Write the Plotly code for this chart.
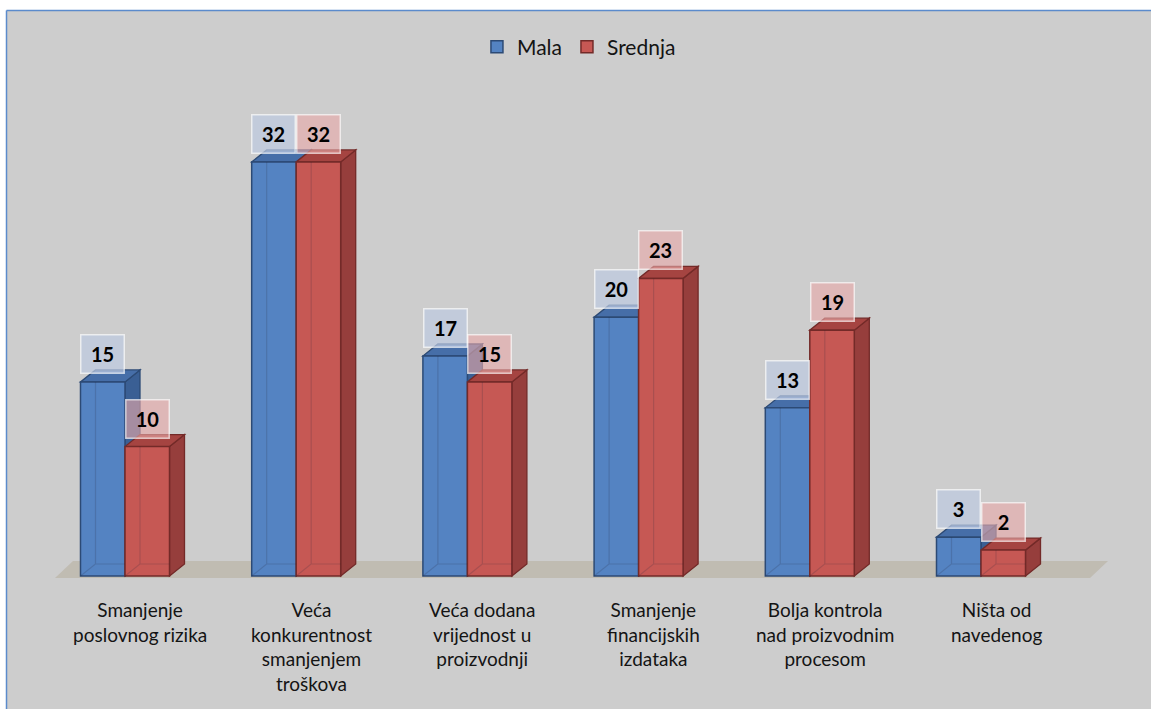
import plotly.graph_objects as go

# ---------------- data ----------------
categories = [
    "Smanjenje<br>poslovnog rizika",
    "Veća<br>konkurentnost<br>smanjenjem<br>troškova",
    "Veća dodana<br>vrijednost u<br>proizvodnji",
    "Smanjenje<br>financijskih<br>izdataka",
    "Bolja kontrola<br>nad proizvodnim<br>procesom",
    "Ništa od<br>navedenog",
]
mala = [15, 32, 17, 20, 13, 3]
srednja = [10, 32, 15, 23, 19, 2]
series_names = ["Mala", "Srednja"]

# ---------------- geometry (pixels) ----------------
W, H = 1151, 709
X0_PX, STEP_PX = 125.0, 171.2      # first category centre, spacing
Y0_PX, UNIT_PX = 576.0, 12.94      # baseline, pixels per unit
BAR_PX, DX_PX, DY_PX = 44.5, 15.0, 12.0

xr = [(0 - X0_PX) / STEP_PX, (W - X0_PX) / STEP_PX]
yr = [(Y0_PX - H) / UNIT_PX, Y0_PX / UNIT_PX]
bw = BAR_PX / STEP_PX
dx = DX_PX / STEP_PX
dy = DY_PX / UNIT_PX


def px_x(p):
    return (p - X0_PX) / STEP_PX


def px_y(p):
    return (Y0_PX - p) / UNIT_PX


styles = {
    "Mala": dict(front="rgb(84,131,194)", side="rgb(58,95,148)", top="rgb(70,110,168)",
                 line="rgb(44,74,117)", box="rgba(190,203,224,0.72)"),
    "Srednja": dict(front="rgb(198,88,84)", side="rgb(150,62,60)", top="rgb(165,68,65)",
                    line="rgb(115,42,40)", box="rgba(232,170,170,0.62)"),
}

FONT = "Lato, 'Open Sans', sans-serif"
BG = "rgb(205,205,205)"

fig = go.Figure()
shapes = []
annotations = []

# white strips outside the chart border (top and left), blue border lines
bx0, by1 = 6.5 / W, 1 - 10.5 / H
shapes.append(dict(type="rect", xref="paper", yref="paper", layer="below",
                   x0=-0.01, x1=1.01, y0=by1, y1=1.01,
                   fillcolor="white", line=dict(width=0)))
shapes.append(dict(type="rect", xref="paper", yref="paper", layer="below",
                   x0=-0.01, x1=bx0, y0=-0.01, y1=1.01,
                   fillcolor="white", line=dict(width=0)))
shapes.append(dict(type="line", xref="paper", yref="paper", layer="below",
                   x0=bx0, x1=1.01, y0=by1, y1=by1,
                   line=dict(color="rgb(91,139,204)", width=1.5)))
shapes.append(dict(type="line", xref="paper", yref="paper", layer="below",
                   x0=bx0, x1=bx0, y0=-0.01, y1=by1,
                   line=dict(color="rgb(91,139,204)", width=1.5)))
# floor
fx = [px_x(55), px_x(1090), px_x(1108), px_x(73)]
fy = [px_y(578), px_y(578), px_y(561), px_y(561)]
shapes.append(dict(type="path", xref="x", yref="y", layer="below",
                   path=f"M{fx[0]},{fy[0]} L{fx[1]},{fy[1]} L{fx[2]},{fy[2]} L{fx[3]},{fy[3]} Z",
                   fillcolor="rgb(192,188,178)", line=dict(width=0)))

series = [("Mala", mala, -bw), ("Srednja", srednja, 0.0)]
xs = list(range(len(categories)))

for name, vals, off in series:
    st = styles[name]
    fig.add_trace(go.Bar(
        x=xs, y=vals, width=bw, offset=off, name=name,
        marker=dict(color=st["front"], line=dict(color=st["line"], width=1.5)),
        hoverinfo="skip",
    ))
    for i, v in zip(xs, vals):
        xl = i + off
        xrr = xl + bw
        # side face
        shapes.append(dict(type="path", xref="x", yref="y", layer="below",
                           path=f"M{xrr},0 L{xrr+dx},{dy} L{xrr+dx},{v+dy} L{xrr},{v} Z",
                           fillcolor=st["side"], line=dict(color=st["line"], width=1.3)))
        # top face
        shapes.append(dict(type="path", xref="x", yref="y", layer="below",
                           path=f"M{xl},{v} L{xrr},{v} L{xrr+dx},{v+dy} L{xl+dx},{v+dy} Z",
                           fillcolor=st["top"], line=dict(color=st["line"], width=1.3)))
        # back edges seen through the translucent front
        shapes.append(dict(type="path", xref="x", yref="y", layer="above",
                           path=f"M{xl},0 L{xl+dx},{dy} L{xl+dx},{v} "
                                f"M{xl+dx},{dy} L{xrr},{dy}",
                           line=dict(color="rgba(40,40,60,0.18)", width=1.2)))
        # value label
        annotations.append(dict(
            x=xl + bw / 2, y=v, xref="x", yref="y", yanchor="bottom", yshift=8,
            text=f"<b>{v}</b>", showarrow=False,
            font=dict(family=FONT, size=20, color="black"),
            bgcolor=st["box"], bordercolor="rgba(255,255,255,0.65)", borderwidth=1.5,
            borderpad=1, width=40, height=35,
        ))

# category labels
for i, c in zip(xs, categories):
    annotations.append(dict(
        x=i + dx, y=px_y(596), xref="x", yref="y", yanchor="top",
        text=c, showarrow=False, align="center",
        font=dict(family=FONT, size=19, color="rgb(20,20,20)"),
    ))

fig.update_layout(
    width=W, height=H,
    margin=dict(l=0, r=0, t=0, b=0),
    paper_bgcolor=BG, plot_bgcolor="rgba(0,0,0,0)",
    barmode="overlay",
    xaxis=dict(range=xr, domain=[0, 1], visible=False, fixedrange=True),
    yaxis=dict(range=yr, domain=[0, 1], visible=False, fixedrange=True),
    showlegend=True,
    legend=dict(orientation="h", x=0.503, xanchor="center", y=1 - 47 / H, yanchor="middle",
                font=dict(family=FONT, size=21, color="rgb(20,20,20)"),
                bgcolor="rgba(0,0,0,0)", itemwidth=30, tracegroupgap=0),
    shapes=shapes, annotations=annotations,
    font=dict(family=FONT),
)

fig.write_html(
    "out.html",
    config={"displayModeBar": False},
    post_script="document.body.style.margin='0';document.body.style.overflow='hidden';"
                "document.body.style.background='" + BG + "';",
)
